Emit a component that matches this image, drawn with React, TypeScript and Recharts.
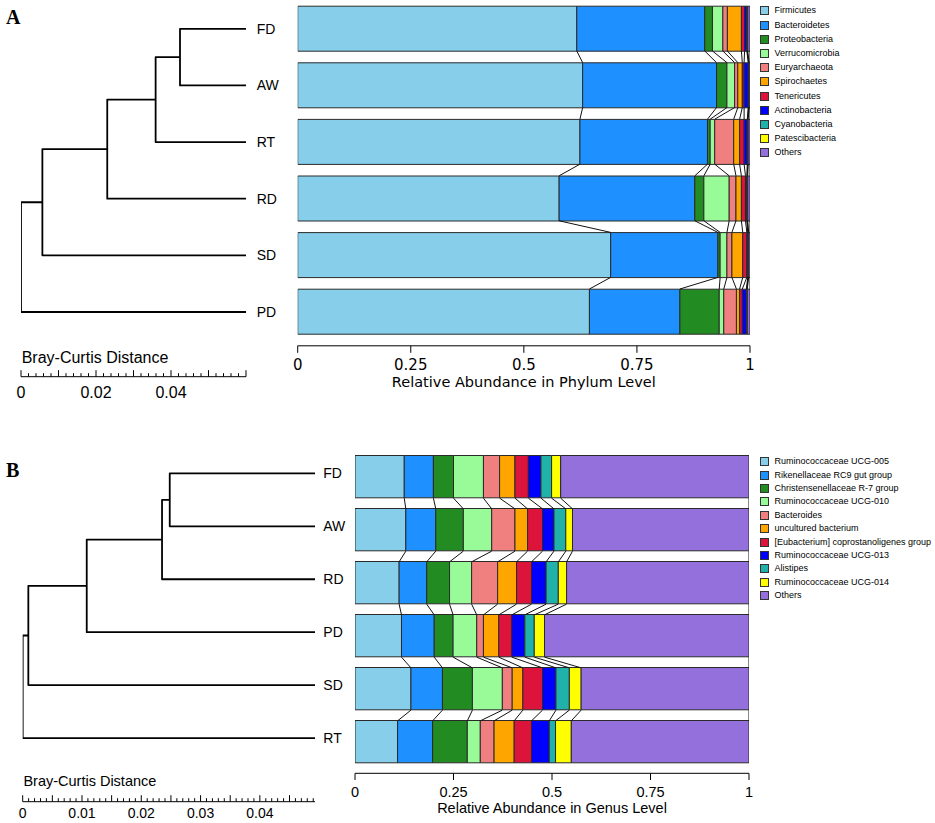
import React from 'react';
import { BarChart, Bar, XAxis, YAxis, ScatterChart, Scatter, Legend } from 'recharts';

const W = 935;
const H = 823;

// ---------- taxa ----------
const phylumNames = [
  'Firmicutes', 'Bacteroidetes', 'Proteobacteria', 'Verrucomicrobia', 'Euryarchaeota',
  'Spirochaetes', 'Tenericutes', 'Actinobacteria', 'Cyanobacteria', 'Patescibacteria', 'Others',
];
const genusNames = [
  'Ruminococcaceae UCG-005', 'Rikenellaceae RC9 gut group', 'Christensenellaceae R-7 group',
  'Ruminococcaceae UCG-010', 'Bacteroides', 'uncultured bacterium',
  '[Eubacterium] coprostanoligenes group', 'Ruminococcaceae UCG-013', 'Alistipes',
  'Ruminococcaceae UCG-014', 'Others',
];
const taxonColors = [
  '#87CEEB', '#1E90FF', '#228B22', '#98FB98', '#F08080',
  '#FFA500', '#DC143C', '#0000FF', '#20B2AA', '#FFFF00', '#9370DB',
];

// ---------- phylum level (panel A) ----------
const phylumSamples = ['FD', 'AW', 'RT', 'RD', 'SD', 'PD'];
const phylumFD = [0.617, 0.283, 0.017, 0.023, 0.010, 0.031, 0.007, 0.005, 0.001, 0.001, 0.005];
const phylumAW = [0.630, 0.296, 0.023, 0.017, 0.007, 0.010, 0.004, 0.009, 0.001, 0.001, 0.002];
const phylumRT = [0.624, 0.282, 0.006, 0.010, 0.042, 0.013, 0.010, 0.007, 0.001, 0.001, 0.004];
const phylumRD = [0.578, 0.300, 0.020, 0.056, 0.015, 0.012, 0.009, 0.003, 0.001, 0.001, 0.005];
const phylumSD = [0.692, 0.237, 0.005, 0.015, 0.011, 0.024, 0.009, 0.002, 0.001, 0.001, 0.003];
const phylumPD = [0.645, 0.200, 0.087, 0.010, 0.028, 0.007, 0.006, 0.009, 0.001, 0.001, 0.006];
const phylumValues = [phylumFD, phylumAW, phylumRT, phylumRD, phylumSD, phylumPD];

// ---------- genus level (panel B) ----------
const genusSamples = ['FD', 'AW', 'RD', 'PD', 'SD', 'RT'];
const genusFD = [0.125, 0.074, 0.051, 0.076, 0.041, 0.039, 0.034, 0.032, 0.027, 0.023, 0.478];
const genusAW = [0.129, 0.076, 0.070, 0.072, 0.059, 0.032, 0.038, 0.029, 0.030, 0.017, 0.448];
const genusRD = [0.112, 0.070, 0.058, 0.056, 0.066, 0.048, 0.038, 0.037, 0.031, 0.021, 0.463];
const genusPD = [0.118, 0.083, 0.048, 0.060, 0.017, 0.039, 0.033, 0.033, 0.024, 0.026, 0.519];
const genusSD = [0.142, 0.080, 0.076, 0.076, 0.025, 0.027, 0.050, 0.034, 0.034, 0.030, 0.426];
const genusRT = [0.108, 0.089, 0.088, 0.033, 0.035, 0.051, 0.044, 0.045, 0.016, 0.040, 0.451];
const genusValues = [genusFD, genusAW, genusRD, genusPD, genusSD, genusRT];

// ---------- abundance axis ----------
const abundanceTicks = [0, 0.25, 0.5, 0.75, 1];
const abundanceTickLabels = ['0', '0.25', '0.5', '0.75', '1'];

// ---------- dendrograms (Bray-Curtis) ----------
type TreeNode = { left: string | number; right: string | number; pos: number };
const phylumTree: TreeNode[] = [
  { left: 'FD', right: 'AW', pos: 0.0424 },
  { left: 0, right: 'RT', pos: 0.0359 },
  { left: 1, right: 'RD', pos: 0.023 },
  { left: 2, right: 'SD', pos: 0.0057 },
  { left: 3, right: 'PD', pos: 0 },
];
const phylumTreeLeafPos = 0.06;
const phylumTreeTicks = Array.from({ length: 31 }, (_, i) => (i * 2) / 1000);
const phylumTreeTickLabels = [0, 0.02, 0.04];

const genusTree: TreeNode[] = [
  { left: 'FD', right: 'AW', pos: 0.0248 },
  { left: 0, right: 'RD', pos: 0.0235 },
  { left: 1, right: 'PD', pos: 0.0108 },
  { left: 2, right: 'SD', pos: 0.00095 },
  { left: 3, right: 'RT', pos: 0 },
];
const genusTreeLeafPos = 0.0493;
const genusTreeTicks = Array.from({ length: 50 }, (_, i) => i / 1000);
const genusTreeTickLabels = [0, 0.01, 0.02, 0.03, 0.04];

// ---------- helpers ----------
function buildTree(nodes: TreeNode[], leaves: string[], leafPos: number) {
  const nodeY: number[] = [];
  const ref = (c: string | number) =>
    typeof c === 'number' ? { x: nodes[c].pos, y: nodeY[c] } : { x: leafPos, y: leaves.indexOf(c) };
  return nodes.map((n, i) => {
    const a = ref(n.left);
    const b = ref(n.right);
    nodeY[i] = (a.y + b.y) / 2;
    return [
      { x: a.x, y: a.y },
      { x: n.pos, y: a.y },
      { x: n.pos, y: b.y },
      { x: b.x, y: b.y },
    ];
  });
}

function buildConnectors(values: number[][], half: number) {
  const segs: { x: number; y: number }[][] = [];
  for (let i = 0; i < values.length - 1; i++) {
    let c1 = 0;
    let c2 = 0;
    for (let k = 0; k < values[i].length; k++) {
      c1 += values[i][k];
      c2 += values[i + 1][k];
      segs.push([
        { x: Math.min(1, c1), y: i + half },
        { x: Math.min(1, c2), y: i + 1 - half },
      ]);
    }
  }
  return segs;
}

const Empty = () => <g />;

const SANS = 'Liberation Sans, Arial, sans-serif';
const DEJAVU = 'DejaVu Sans, Verdana, sans-serif';

type Geo = {
  barLeft: number; barRight: number; barTop: number; barBottom: number; barSize: number;
  axisY: number; xAxisH: number; tickSize: number; tickMargin: number;
  tickFont: number; tickFamily: string; titleFont: number; titleOffset: number;
  treeLeft: number; treeRight: number; treeTop: number; treeBottom: number; treeAxisY: number;
  leafGap: number; leafFont: number; treeTickFont: number; treeTitleFont: number;
  treeTitleDy: number; treeLabelDy: number; majorEvery: number;
  legendTop: number; legendRowH: number;
};

const geoA: Geo = {
  barLeft: 297.7, barRight: 750, barTop: 0.2, barBottom: 339.8, barSize: 45,
  axisY: 345.8, xAxisH: 50, tickSize: 7, tickMargin: 6.8,
  tickFont: 15, tickFamily: DEJAVU, titleFont: 14.5, titleOffset: 8.5,
  treeLeft: 21, treeRight: 246, treeTop: 0.5, treeBottom: 340.3, treeAxisY: 376.7,
  leafGap: 10.7, leafFont: 14, treeTickFont: 16, treeTitleFont: 16,
  treeTitleDy: -19, treeLabelDy: 15.3, majorEvery: 10,
  legendTop: 3.9, legendRowH: 14.2,
};

const geoB: Geo = {
  barLeft: 355, barRight: 749, barTop: 450.5, barBottom: 768.5, barSize: 42.3,
  axisY: 773.3, xAxisH: 45, tickSize: 6.7, tickMargin: 7.1,
  tickFont: 14.5, tickFamily: SANS, titleFont: 14.5, titleOffset: 5.8,
  treeLeft: 22.7, treeRight: 315, treeTop: 446.9, treeBottom: 764.5, treeAxisY: 801.7,
  leafGap: 8.3, leafFont: 14, treeTickFont: 14, treeTitleFont: 14.5,
  treeTitleDy: -20.7, treeLabelDy: 11.3, majorEvery: 5,
  legendTop: 455, legendRowH: 13.4,
};

function LegendList({ names, rowH }: { names: string[]; rowH: number }) {
  return (
    <div style={{ fontFamily: SANS, fontSize: 9, color: '#000' }}>
      {names.map((n, k) => (
        <div key={n} style={{ display: 'flex', alignItems: 'center', height: rowH }}>
          <span
            style={{
              width: 9, height: 9, boxSizing: 'border-box', border: '1.2px solid #333',
              background: taxonColors[k], marginRight: 5.5, flex: 'none', display: 'inline-block',
            }}
          />
          <span style={{ whiteSpace: 'nowrap', lineHeight: 1 }}>{n}</span>
        </div>
      ))}
    </div>
  );
}

type PanelProps = {
  samples: string[];
  values: number[][];
  names: string[];
  title: string;
  tree: TreeNode[];
  leafPos: number;
  treeTicks: number[];
  treeTickLabels: number[];
  geo: Geo;
};

function Panel({ samples, values, names, title, tree, leafPos, treeTicks, treeTickLabels, geo }: PanelProps) {
  const rows = samples.map((s, i) => {
    const r: Record<string, number | string> = { sample: s };
    names.forEach((n, k) => {
      r[n] = values[i][k];
    });
    return r;
  });
  const band = (geo.barBottom - geo.barTop) / samples.length;
  const half = geo.barSize / 2 / band;
  const connectors = buildConnectors(values, half);
  const treeSegs = buildTree(tree, samples, leafPos);
  const n = samples.length;
  const leafIdx = samples.map((_, i) => i);
  const labelSet = treeTickLabels.map((v) => Math.round(v * 1000));

  const renderTreeTick = (p: any) => {
    const { x, y, payload } = p;
    const t = Math.round(payload.value * 1000);
    const major = t % geo.majorEvery === 0;
    const labeled = labelSet.indexOf(t) >= 0;
    return (
      <g>
        <line x1={x} x2={x} y1={y} y2={y - (major ? 6.5 : 3.5)} stroke="#000" strokeWidth={1} />
        {labeled && (
          <text
            x={x}
            y={y + geo.treeLabelDy}
            textAnchor="middle"
            dominantBaseline="central"
            fontFamily={SANS}
            fontSize={geo.treeTickFont}
            fill="#000"
          >
            {t === 0 ? '0' : String(t / 1000)}
          </text>
        )}
      </g>
    );
  };

  const renderTreeTitle = (p: any) => {
    const vb = p.viewBox;
    return (
      <text
        x={vb.x + 0.7}
        y={vb.y + geo.treeTitleDy}
        textAnchor="start"
        dominantBaseline="central"
        fontFamily={SANS}
        fontSize={geo.treeTitleFont}
        fill="#000"
      >
        Bray-Curtis Distance
      </text>
    );
  };

  return (
    <>
      <div style={{ position: 'absolute', left: 0, top: 0 }}>
        <BarChart
          width={W}
          height={H}
          data={rows}
          layout="vertical"
          margin={{ top: geo.barTop, right: W - geo.barRight, bottom: H - geo.barBottom, left: geo.barLeft }}
        >
          <XAxis type="number" domain={[0, 1]} hide allowDataOverflow />
          <YAxis type="category" dataKey="sample" hide />
          {names.map((nm, k) => (
            <Bar
              key={nm}
              dataKey={nm}
              name={nm}
              stackId="s"
              fill={taxonColors[k]}
              stroke="#2a2a2a"
              strokeWidth={1}
              barSize={geo.barSize}
              isAnimationActive={false}
            />
          ))}
          <Legend
            layout="vertical"
            align="center"
            verticalAlign="middle"
            wrapperStyle={{ left: 760, top: geo.legendTop, width: 175 }}
            content={() => <LegendList names={names} rowH={geo.legendRowH} />}
          />
        </BarChart>
      </div>

      <div style={{ position: 'absolute', left: 0, top: 0 }}>
        <ScatterChart
          width={W}
          height={H}
          margin={{
            top: geo.barTop,
            right: W - geo.barRight,
            left: geo.barLeft,
            bottom: H - geo.axisY - geo.xAxisH,
          }}
        >
          <XAxis
            type="number"
            dataKey="x"
            domain={[0, 1]}
            allowDataOverflow
            ticks={abundanceTicks}
            interval={0}
            tickFormatter={(v: number) => abundanceTickLabels[abundanceTicks.indexOf(v)]}
            height={geo.xAxisH}
            tickSize={geo.tickSize}
            tickMargin={geo.tickMargin}
            axisLine={{ stroke: '#000', strokeWidth: 1 }}
            tickLine={{ stroke: '#000', strokeWidth: 1 }}
            tick={{ fill: '#000', fontSize: geo.tickFont, fontFamily: geo.tickFamily }}
            label={{
              value: title,
              position: 'insideBottom',
              offset: geo.titleOffset,
              fill: '#000',
              fontSize: geo.titleFont,
              fontFamily: geo.tickFamily,
            }}
          />
          <YAxis
            type="number"
            dataKey="y"
            domain={[-0.5, n - 0.5]}
            reversed
            hide
            allowDataOverflow
            padding={{ top: 0, bottom: geo.axisY - geo.barBottom }}
          />
          {connectors.map((seg, j) => (
            <Scatter
              key={j}
              data={seg}
              fill="#111"
              line={{ stroke: '#111', strokeWidth: 1 }}
              shape={Empty}
              isAnimationActive={false}
            />
          ))}
        </ScatterChart>
      </div>

      <div style={{ position: 'absolute', left: 0, top: 0 }}>
        <ScatterChart
          width={W}
          height={H}
          margin={{
            top: geo.treeTop,
            left: geo.treeLeft,
            right: W - geo.treeRight - 40,
            bottom: H - geo.treeAxisY - 20,
          }}
        >
          <XAxis
            type="number"
            dataKey="x"
            domain={[0, leafPos]}
            allowDataOverflow
            ticks={treeTicks}
            interval={0}
            height={20}
            tickSize={0}
            tickMargin={0}
            tickLine={false}
            axisLine={{ stroke: '#000', strokeWidth: 1 }}
            tick={renderTreeTick}
            label={{ value: 'Bray-Curtis Distance', content: renderTreeTitle }}
          />
          <YAxis
            type="number"
            dataKey="y"
            orientation="right"
            domain={[-0.5, n - 0.5]}
            reversed
            allowDataOverflow
            ticks={leafIdx}
            interval={0}
            tickFormatter={(v: number) => samples[v]}
            width={40}
            tickSize={0}
            tickMargin={geo.leafGap}
            axisLine={false}
            tickLine={false}
            tick={{ fill: '#000', fontSize: geo.leafFont, fontFamily: SANS }}
            padding={{ top: 0, bottom: geo.treeAxisY - geo.treeBottom }}
          />
          {treeSegs.map((seg, j) => (
            <Scatter
              key={j}
              data={seg}
              fill="#000"
              line={{ stroke: '#000', strokeWidth: 1.8, strokeLinejoin: 'round' }}
              shape={Empty}
              isAnimationActive={false}
            />
          ))}
        </ScatterChart>
      </div>
    </>
  );
}

export default function App() {
  const letterStyle: React.CSSProperties = {
    position: 'absolute',
    fontFamily: 'Liberation Serif, Times New Roman, serif',
    fontWeight: 'bold',
    fontSize: 20,
    lineHeight: 1,
    color: '#000',
  };
  return (
    <div style={{ position: 'absolute', left: 0, top: 0, width: W, height: H, background: '#fff', overflow: 'hidden' }}>
      <div style={{ ...letterStyle, left: 6, top: 6.5 }}>A</div>
      <div style={{ ...letterStyle, left: 6, top: 459.8 }}>B</div>
      <Panel
        samples={phylumSamples}
        values={phylumValues}
        names={phylumNames}
        title="Relative Abundance in Phylum Level"
        tree={phylumTree}
        leafPos={phylumTreeLeafPos}
        treeTicks={phylumTreeTicks}
        treeTickLabels={phylumTreeTickLabels}
        geo={geoA}
      />
      <Panel
        samples={genusSamples}
        values={genusValues}
        names={genusNames}
        title="Relative Abundance in Genus Level"
        tree={genusTree}
        leafPos={genusTreeLeafPos}
        treeTicks={genusTreeTicks}
        treeTickLabels={genusTreeTickLabels}
        geo={geoB}
      />
    </div>
  );
}
